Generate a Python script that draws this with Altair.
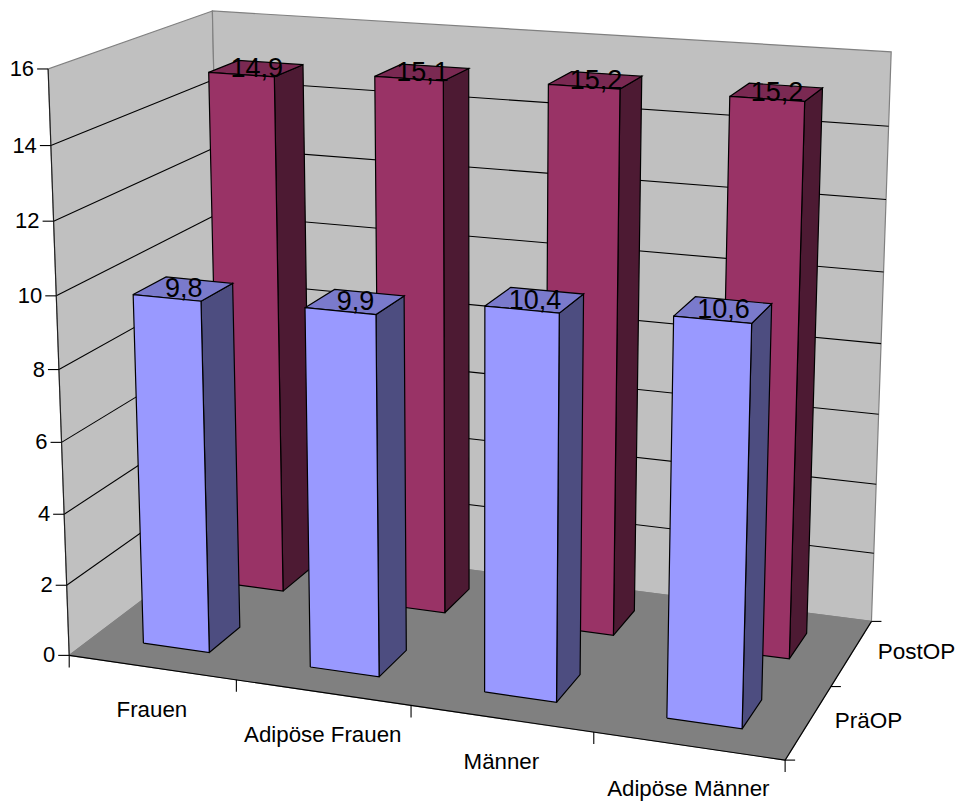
import altair as alt
import numpy as np
import pandas as pd

# Chart values
categories = ["Frauen", "Adipöse Frauen", "Männer", "Adipöse Männer"]
series_names = ["PräOP", "PostOP"]
pre_op = [9.8, 9.9, 10.4, 10.6]
post_op = [14.9, 15.1, 15.2, 15.2]
value_ticks = [0, 2, 4, 6, 8, 10, 12, 14, 16]

# Perspective camera: category, series depth, value -> page pixels
CAMERA = np.array([
    [162.0685287, 90.5516628, -1.4659099, 69.2076432],
    [9.8081565, -26.926215, -36.8629219, 655.3807759],
    [-0.0215369, 0.0586486, -0.0030731, 1.0],
])
PAGE_W, PAGE_H = 956, 803
GAP = 0.3  # share of a category or depth slot left free on each side of a bar
FONT = "Liberation Sans"

WALL, FLOOR = "#C0C0C0", "#808080"
BLUE = {"front": "#9999FF", "side": "#4D4D80", "top": "#7A7ACC"}
WINE = {"front": "#993366", "side": "#4D1A33", "top": "#7A2952"}


def project(cat, depth, value):
    h = CAMERA @ np.array([cat, depth, value, 1.0])
    return h[0] / h[2], h[1] / h[2]


polys, lines = [], []


def add_face(name, corners, fill, stroke="black"):
    for i, corner in enumerate(list(corners) + [corners[0]]):
        x, y = project(*corner)
        polys.append(dict(face=name, i=i, x=x, y=y, fill=fill, stroke=stroke))


def add_line(name, p, q, stroke="black", offset=(0, 0)):
    for i, pt in enumerate((p, q)):
        x, y = project(*pt)
        dx, dy = offset if i == 1 else (0, 0)
        lines.append(dict(seg=name, i=i, x=x + dx, y=y + dy, stroke=stroke))


# Back walls and floor
add_face("wall-left", [(0, 0, 0), (0, 2, 0), (0, 2, 16), (0, 0, 16)], WALL, FLOOR)
add_face("wall-back", [(0, 2, 0), (4, 2, 0), (4, 2, 16), (0, 2, 16)], WALL, FLOOR)
add_face("floor", [(0, 0, 0), (4, 0, 0), (4, 2, 0), (0, 2, 0)], FLOOR, FLOOR)

# Gridlines on both walls
for v in value_ticks[1:-1]:
    add_line(f"grid-l{v}", (0, 0, v), (0, 2, v))
    add_line(f"grid-b{v}", (0, 2, v), (4, 2, v))

# Axis lines and their tick marks
add_line("axis-z", (0, 0, 0), (0, 0, 16), "#202020")
add_line("axis-x", (0, 0, 0), (4, 0, 0))
add_line("axis-d", (4, 0, 0), (4, 2, 0))
for v in value_ticks:
    add_line(f"tick-z{v}", (0, 0, v), (0, 0, v), offset=(-11, 0))
for c in range(len(categories) + 1):
    add_line(f"tick-x{c}", (c, 0, 0), (c, 0, 0), offset=(0, 12))
for d in range(len(series_names) + 1):
    add_line(f"tick-d{d}", (4, d, 0), (4, d, 0), offset=(10, 0))

# Bars, rear row first so the front row covers it
bars = []
for depth, values, palette in ((1, post_op, WINE), (0, pre_op, BLUE)):
    for c, v in enumerate(values):
        x0, x1 = c + GAP, c + 1 - GAP
        d0, d1 = depth + GAP, depth + 1 - GAP
        tag = f"{depth}-{c}"
        add_face(f"bar{tag}-side", [(x1, d0, 0), (x1, d1, 0), (x1, d1, v), (x1, d0, v)], palette["side"])
        add_face(f"bar{tag}-top", [(x0, d0, v), (x1, d0, v), (x1, d1, v), (x0, d1, v)], palette["top"])
        add_face(f"bar{tag}-front", [(x0, d0, 0), (x1, d0, 0), (x1, d0, v), (x0, d0, v)], palette["front"])
        lx, ly = project(c + 0.5, depth + 0.5, v)
        bars.append(dict(x=lx + 0.5, y=ly + 0.5, label=f"{v:.1f}".replace(".", ",")))

# Axis labels
z_labels = []
for v in value_ticks:
    x, y = project(0, 0, v)
    z_labels.append(dict(x=x - 14, y=y, label=str(v)))
cat_labels = []
for c, name in enumerate(categories):
    x, y = project(c + 0.5, 0, 0)
    cat_labels.append(dict(x=x, y=y + 43, label=name))
depth_labels = []
for d, name in enumerate(series_names):
    x, y = project(4, d + 0.5, 0)
    depth_labels.append(dict(x=x + 26, y=y - 1, label=name))

x_scale = alt.Scale(domain=[0, PAGE_W], zero=False, nice=False)
y_scale = alt.Scale(domain=[PAGE_H, 0], zero=False, nice=False)
X = alt.X("x:Q", scale=x_scale, axis=None)
Y = alt.Y("y:Q", scale=y_scale, axis=None)


def faces(frame):
    return alt.Chart(frame).mark_line(strokeWidth=1.2, strokeJoin="miter", interpolate="linear").encode(
        x=X, y=Y, detail="face:N", order="i:Q",
        fill=alt.Fill("fill:N", scale=None, legend=None),
        stroke=alt.Stroke("stroke:N", scale=None, legend=None),
    )


def texts(rows, size, align):
    return alt.Chart(pd.DataFrame(rows)).mark_text(
        font=FONT, fontSize=size, align=align, baseline="middle", color="black"
    ).encode(x=X, y=Y, text="label:N")


poly_df = pd.DataFrame(polys)
is_base = poly_df["face"].str.match("wall|floor")
scene = faces(poly_df[is_base])
solid = faces(poly_df[~is_base])
rules = alt.Chart(pd.DataFrame(lines)).mark_line(strokeWidth=1.1).encode(
    x=X, y=Y, detail="seg:N", order="i:Q",
    stroke=alt.Stroke("stroke:N", scale=None, legend=None),
)

chart = alt.layer(
    scene,
    rules,
    solid,
    texts(bars, 27, "center"),
    texts(z_labels, 22, "right"),
    texts(cat_labels, 22.3, "center"),
    texts(depth_labels, 22.5, "left"),
).properties(
    width=PAGE_W, height=PAGE_H, padding=0, autosize="none", background="white"
).configure_view(stroke=None)

chart.save("out.html", embed_options={"renderer": "svg", "actions": False})
